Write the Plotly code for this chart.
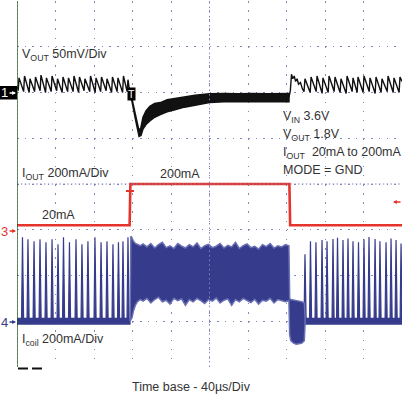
import plotly.graph_objects as go

# ---------------- data (times in µs, 40 µs/div) ----------------
# Channel 1: Vout (mV, relative to channel-1 marker), 50 mV/div
vout_pre_peak_t = [2.1, 7.8, 13.5, 19.2, 24.9, 30.6, 36.4, 42.1, 47.8, 53.5, 59.2,
                   64.9, 70.6, 76.4, 82.1, 87.8, 93.5, 99.2, 104.9, 110.6, 115.3]
vout_pre_peak_mv = [16, 18, 15, 17, 19, 16, 18, 15, 17, 16, 18,
                    17, 15, 18, 16, 17, 15, 17, 16, 18, 14]
vout_pre_trough_mv = [2, 1, 0, 1, 2, 0, 1, 2, 0, 1, 1,
                      0, 2, 1, 0, 1, 2, 0, 1, 0, 1]

vout_load_t = [117.2, 119.5, 122.6, 124.7, 126.8, 128.8, 130.9, 134.0, 138.0, 143.0,
               149.0, 156.0, 164.0, 174.0, 185.0, 200.0, 215.0, 230.0, 245.0, 260.0,
               272.0, 282.6]
vout_load_hi = [1, -7, -22, -33, -42, -38, -27, -20, -15, -12,
                -11, -8, -6.5, -4.5, -3, -1.5, -1, -1.5, -1, -1.5,
                -1, -1]
vout_load_lo = [-1, -10, -27, -39, -48, -47, -40, -35, -31, -27,
                -24, -21, -19, -16, -13.5, -11, -10, -10.5, -10, -10.5,
                -10, -10]

vout_rec_t = [282.6, 284.0, 285.2, 286.5, 288.0, 289.5, 291.0, 292.5, 294.5, 296.5, 298.2]
vout_rec_mv = [-5, 2, 20, 15, 18, 12, 15, 9, 11, 4, 1]

vout_post_peak_t = [299.2, 305.5, 311.7, 317.9, 324.2, 330.4, 336.6, 342.9, 349.1,
                    354.3, 360.5, 366.8, 373.0, 379.2, 385.5, 391.7, 397.9]
vout_post_peak_mv = [15, 17, 18, 16, 18, 17, 15, 18, 16, 17, 18, 16, 17, 15, 18, 16, 17]
vout_post_trough_mv = [1, 0, 1, -1, 0, 1, 0, -1, 1, 0, 0, 1, -1, 0, 1, 0, 0]

# Channel 3: Iout (mA), 200 mA/div
iout_t = [0, 117.0, 117.8, 283.0, 283.8, 400]
iout_ma = [20, 20, 200, 200, 20, 20]

# Channel 4: Icoil (mA), 200 mA/div
icoil_pre_pulse_t = [5.7, 11.4, 17.7, 23.9, 30.1, 36.4, 42.6, 48.3, 54.5, 61.3,
                     67.5, 73.7, 81.0, 87.3, 93.5, 99.7, 105.4, 110.1, 115.3]
icoil_pre_pulse_ma = [367, 358, 350, 358, 345, 358, 337, 367, 345, 358,
                      337, 350, 367, 345, 350, 337, 345, 350, 367]
icoil_post_pulse_t = [299.2, 304.9, 310.6, 316.9, 322.1, 328.3, 333.0, 338.7, 343.9,
                      349.1, 354.8, 360.5, 365.7, 372.0, 377.1, 383.4, 388.6, 393.8, 399.0]
icoil_post_pulse_ma = [293, 350, 345, 355, 350, 360, 365, 355, 362,
                       350, 345, 358, 368, 360, 350, 345, 362, 355, 340]

icoil_load_t = [117.5, 118.3, 119.5, 121, 123, 125, 128, 131, 135, 139, 143, 147, 151,
                155, 159, 163, 167, 171, 175, 179, 183, 187, 191, 195, 199, 203, 207,
                211, 215, 219, 223, 227, 231, 235, 239, 243, 247, 251, 255, 259, 263,
                267, 271, 275, 279, 282.5, 283.3, 284.5, 287, 290, 293, 296, 298.5, 299.3]
icoil_load_hi = [0, 372, 365, 350, 340, 335, 330, 338, 325, 340, 320, 335, 345,
                 322, 330, 318, 340, 328, 320, 335, 325, 342, 318, 330, 336, 322, 328,
                 340, 320, 332, 325, 345, 318, 330, 338, 322, 328, 315, 335, 326, 340,
                 320, 330, 325, 335, 330, 100, 95, 92, 90, 88, 85, 80, 20]
icoil_load_lo = [0, 0, 15, 45, 70, 85, 95, 88, 100, 80, 95, 105, 85,
                 92, 75, 100, 90, 98, 70, 95, 85, 100, 90, 78, 95, 88, 102,
                 80, 92, 98, 70, 95, 85, 100, 90, 82, 96, 75, 92, 88, 100,
                 80, 95, 90, 85, 90, -60, -85, -95, -100, -98, -95, -85, -10]
icoil_base_segments = [(0, 118.0), (298.5, 400)]

# ---------------- helpers ----------------
def vdiv(mv):
    return 2 + mv / 50.0


def idiv(ma):
    return -1 + ma / 200.0


def cdiv(ma):
    return -3 + ma / 200.0


def px2x(px):  # pixel -> paper x
    return (px - 17) / 385.0


def px2y(py):  # pixel -> paper y
    return (367 - py) / 366.0


BLACK = "#111111"
RED = "#e4342b"
NAVY = "#363b8c"
NAVY_L = "#6a70b4"
GRID = "#8188bb"
TXT = "#333333"
FONT = "Liberation Sans, Arial, Helvetica, sans-serif"

fig = go.Figure()

# ---- channel 4: coil current ----
for a, b in icoil_base_segments:
    fig.add_trace(go.Scatter(x=[a, b], y=[cdiv(0), cdiv(0)], mode="lines",
                             line=dict(color=NAVY, width=7), hoverinfo="skip"))

px_, py_ = [], []
for t, p in list(zip(icoil_pre_pulse_t, icoil_pre_pulse_ma)) + list(zip(icoil_post_pulse_t, icoil_post_pulse_ma)):
    px_ += [t - 1.0, t, t + 1.2, None]
    py_ += [cdiv(0), cdiv(p), cdiv(0), None]
fig.add_trace(go.Scatter(x=px_, y=py_, mode="lines", fill="toself", fillcolor=NAVY,
                         line=dict(color=NAVY, width=1.2), hoverinfo="skip"))

bx = icoil_load_t + icoil_load_t[::-1]
by = [cdiv(v) for v in icoil_load_hi] + [cdiv(v) for v in icoil_load_lo[::-1]]
fig.add_trace(go.Scatter(x=bx, y=by, mode="lines", fill="toself", fillcolor=NAVY,
                         line=dict(color=NAVY_L, width=1.5), hoverinfo="skip"))

# ---- channel 3: output current ----
fig.add_trace(go.Scatter(x=iout_t, y=[idiv(v) for v in iout_ma], mode="lines",
                         line=dict(color=RED, width=2.6), hoverinfo="skip"))

# ---- channel 1: output voltage ----
vx, vy = [0.0], [vdiv(8)]
for t, p, tr in zip(vout_pre_peak_t, vout_pre_peak_mv, vout_pre_trough_mv):
    vx += [t - 0.9, t]
    vy += [vdiv(tr), vdiv(p)]
vx.append(vout_load_t[0])
vy.append(vdiv(0))
fig.add_trace(go.Scatter(x=vx, y=vy, mode="lines", line=dict(color=BLACK, width=1.4),
                         hoverinfo="skip"))

lx = vout_load_t + vout_load_t[::-1]
ly = [vdiv(v) for v in vout_load_hi] + [vdiv(v) for v in vout_load_lo[::-1]]
fig.add_trace(go.Scatter(x=lx, y=ly, mode="lines", fill="toself", fillcolor=BLACK,
                         line=dict(color=BLACK, width=1.5), hoverinfo="skip"))

wx = list(vout_rec_t)
wy = [vdiv(v) for v in vout_rec_mv]
for t, p, tr in zip(vout_post_peak_t, vout_post_peak_mv, vout_post_trough_mv):
    wx += [t - 0.9, t]
    wy += [vdiv(tr), vdiv(p)]
wx.append(400)
wy.append(vdiv(12))
fig.add_trace(go.Scatter(x=wx, y=wy, mode="lines", line=dict(color=BLACK, width=1.4),
                         hoverinfo="skip"))

# ---- shapes: centre cross, borders, channel-1 marker box ----
shapes = [
    dict(type="line", xref="x", yref="y", x0=200, x1=200, y0=-4, y1=4,
         line=dict(color=GRID, width=1, dash="1.5px,3.1px")),
    dict(type="line", xref="x", yref="y", x0=0, x1=400, y0=0, y1=0,
         line=dict(color=GRID, width=1, dash="1.5px,2.35px")),
    dict(type="line", xref="x", yref="y", x0=0, x1=0, y0=-4, y1=4,
         line=dict(color="#1d2a1d", width=1.2)),
    dict(type="line", xref="x", yref="y", x0=0, x1=0, y0=-4, y1=4,
         line=dict(color="#2f8a2f", width=1.2, dash="2px,2px")),
    dict(type="line", xref="paper", yref="paper", x0=px2x(18), x1=px2x(28),
         y0=px2y(368.5), y1=px2y(368.5), line=dict(color=BLACK, width=2)),
    dict(type="line", xref="paper", yref="paper", x0=px2x(32), x1=px2x(42),
         y0=px2y(368.5), y1=px2y(368.5), line=dict(color=BLACK, width=2)),
    dict(type="line", xref="paper", yref="paper", x0=px2x(126), x1=px2x(134),
         y0=px2y(191), y1=px2y(191), line=dict(color=RED, width=2)),
    dict(type="rect", xref="paper", yref="paper", x0=px2x(0), x1=px2x(17),
         y0=px2y(99.5), y1=px2y(86), fillcolor="black", line=dict(width=0),
         layer="above"),
]

# ---- annotations ----
def label(text, x, y, color=TXT, size=12.5, xanchor="left", **kw):
    return dict(text=text, xref="paper", yref="paper", x=px2x(x), y=px2y(y),
                xanchor=xanchor, yanchor="middle", showarrow=False,
                font=dict(family=FONT, size=size, color=color), **kw)


def arrow(x_tip, y, dx, color):
    return dict(text="", xref="paper", yref="paper", x=px2x(x_tip), y=px2y(y),
                ax=dx, ay=0, showarrow=True, arrowhead=2, arrowsize=0.6,
                arrowwidth=1.3, arrowcolor=color, standoff=0, startstandoff=0)


annotations = [
    label("V<sub>OUT</sub> 50mV/Div", 20, 55),
    label("V<sub>IN</sub> 3.6V", 281, 117),
    label("V<sub>OUT</sub> 1.8V", 281, 135),
    label("I<sub>OUT</sub>\u00a0 20mA to 200mA", 281, 153),
    label("MODE = GND", 281, 170),
    label("I<sub>OUT</sub> 200mA/Div", 20, 174),
    label("200mA", 158, 174),
    label("20mA", 40, 215),
    label("I<sub>coil</sub> 200mA/Div", 20, 340),
    label("Time base - 40µs/Div", 191, 387, xanchor="center"),
    label("1", -1, 93, color="white", size=13),
    arrow(16, 93, -8, "white"),
    label("3", -1, 231, color=RED, size=13),
    arrow(16, 231, -8, RED),
    label("4", -1, 322, color=NAVY, size=13),
    arrow(16, 322, -8, NAVY),
    label("T", 131, 94, color="white", size=10.5, xanchor="center", bgcolor="black",
          borderpad=0),
    arrow(393, 202, 9, RED),
]

fig.update_layout(
    width=402, height=395,
    margin=dict(l=17, r=0, t=1, b=28),
    paper_bgcolor="white", plot_bgcolor="white",
    showlegend=False,
    font=dict(family=FONT, color=TXT),
    xaxis=dict(range=[0, 400], tick0=0, dtick=40, showgrid=True, gridcolor=GRID,
               gridwidth=1, griddash="1.5px,7.65px", zeroline=False,
               showticklabels=False, ticks="", showline=False, fixedrange=True),
    yaxis=dict(range=[-4, 4], tick0=0, dtick=1, showgrid=True, gridcolor=GRID,
               gridwidth=1, griddash="1.5px,6.2px", zeroline=False,
               showticklabels=False, ticks="", showline=False, fixedrange=True),
    shapes=shapes,
    annotations=annotations,
)

fig.write_html("out.html", config={"displayModeBar": False},
               post_script="document.body.style.margin='0px';")
